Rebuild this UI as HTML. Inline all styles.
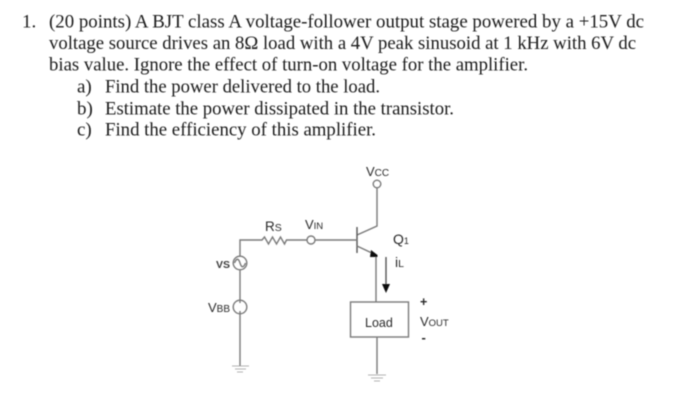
<!DOCTYPE html>
<html><head><meta charset="utf-8">
<style>
html,body{margin:0;padding:0;background:#fff;width:700px;height:407px;overflow:hidden}
svg{display:block}
.t{font-family:"Liberation Serif",serif;font-size:19px;fill:#1c1c1c}
.s{font-family:"Liberation Sans",sans-serif;fill:#2a2a2a}
</style></head><body>
<svg width="700" height="407" viewBox="0 0 700 407" xmlns="http://www.w3.org/2000/svg">
<defs><filter id="b" x="-5%" y="-5%" width="110%" height="110%"><feGaussianBlur stdDeviation="0.45"/></filter></defs>
<rect width="700" height="407" fill="#fff"/>
<g filter="url(#b)">
<text class="t" x="22" y="27.500">1.</text>
<text class="t" x="49" y="27.500" textLength="595" lengthAdjust="spacingAndGlyphs">(20 points) A BJT class A voltage-follower output stage powered by a +15V dc</text>
<text class="t" x="49" y="49" textLength="587" lengthAdjust="spacingAndGlyphs">voltage source drives an 8Ω load with a 4V peak sinusoid at 1 kHz with 6V dc</text>
<text class="t" x="49" y="70.500" textLength="479" lengthAdjust="spacingAndGlyphs">bias value. Ignore the effect of turn-on voltage for the amplifier.</text>
<text class="t" x="77" y="92.500">a)</text>
<text class="t" x="105" y="92.500" textLength="275" lengthAdjust="spacingAndGlyphs">Find the power delivered to the load.</text>
<text class="t" x="77" y="114.500">b)</text>
<text class="t" x="105" y="114.500" textLength="349" lengthAdjust="spacingAndGlyphs">Estimate the power dissipated in the transistor.</text>
<text class="t" x="77" y="135.500">c)</text>
<text class="t" x="105" y="135.500" textLength="271" lengthAdjust="spacingAndGlyphs">Find the efficiency of this amplifier.</text>

<g fill="none" stroke="#7a7a7a" stroke-width="1.400">
<circle cx="377" cy="184" r="3.800"/>
<path d="M377 188V226L357 235"/>
<path d="M357 227V253" stroke="#555"/>
<path d="M240 256V240H262l2.500-3 4 7 4-7 4 7 4-7 4 7 2-4H307M315 240H357"/>
<circle cx="311" cy="240" r="4"/>
<path d="M357 246L376 255V302"/>
<rect x="350.500" y="302" width="58" height="35"/>
<path d="M377 337V374"/>
<circle cx="240" cy="263" r="6.800"/>
<path d="M234.500 263c2-5 4-5 5.500 0s3.500 5 5.500 0"/>
<path d="M240 270V300"/>
<circle cx="240" cy="307" r="6.800"/>
<path d="M240 300V303M240 311V366"/>
<path d="M386 257V284" stroke="#555"/>
<path d="M232 366H249M235 369H246M237 372H243" stroke-width="0.800" stroke="#999"/>
<path d="M368 375H386M371 378H383M374 381H380" stroke-width="0.800" stroke="#999"/>
</g>
<path d="M371 250L377.500 255V257H370Z" fill="#111"/>
<path d="M382 284H390L386 293Z" fill="#111"/>

<g class="s">
<text x="366" y="176" font-size="13">V<tspan font-size="10">CC</tspan></text>
<text x="265" y="231" font-size="13.500">R<tspan font-size="10.500">S</tspan></text>
<text x="305" y="229" font-size="13">V<tspan font-size="9.500">IN</tspan></text>
<text x="216" y="268" font-size="10.500" font-weight="bold" fill="#3a3a3a">VS</text>
<text x="208" y="312" font-size="13">V<tspan font-size="10">BB</tspan></text>
<text x="393" y="244" font-size="14">Q<tspan font-size="9">1</tspan></text>
<text x="395" y="267" font-size="14">i<tspan font-size="10.500">L</tspan></text>
<text x="365" y="327" font-size="12.500">Load</text>
<text x="420" y="306" font-size="12.500" font-weight="bold">+</text>
<text x="420" y="326" font-size="13">V<tspan font-size="9.500">OUT</tspan></text>
<text x="421.500" y="342" font-size="13" font-weight="bold">-</text>
</g>
</g>
</svg>
</body></html>
